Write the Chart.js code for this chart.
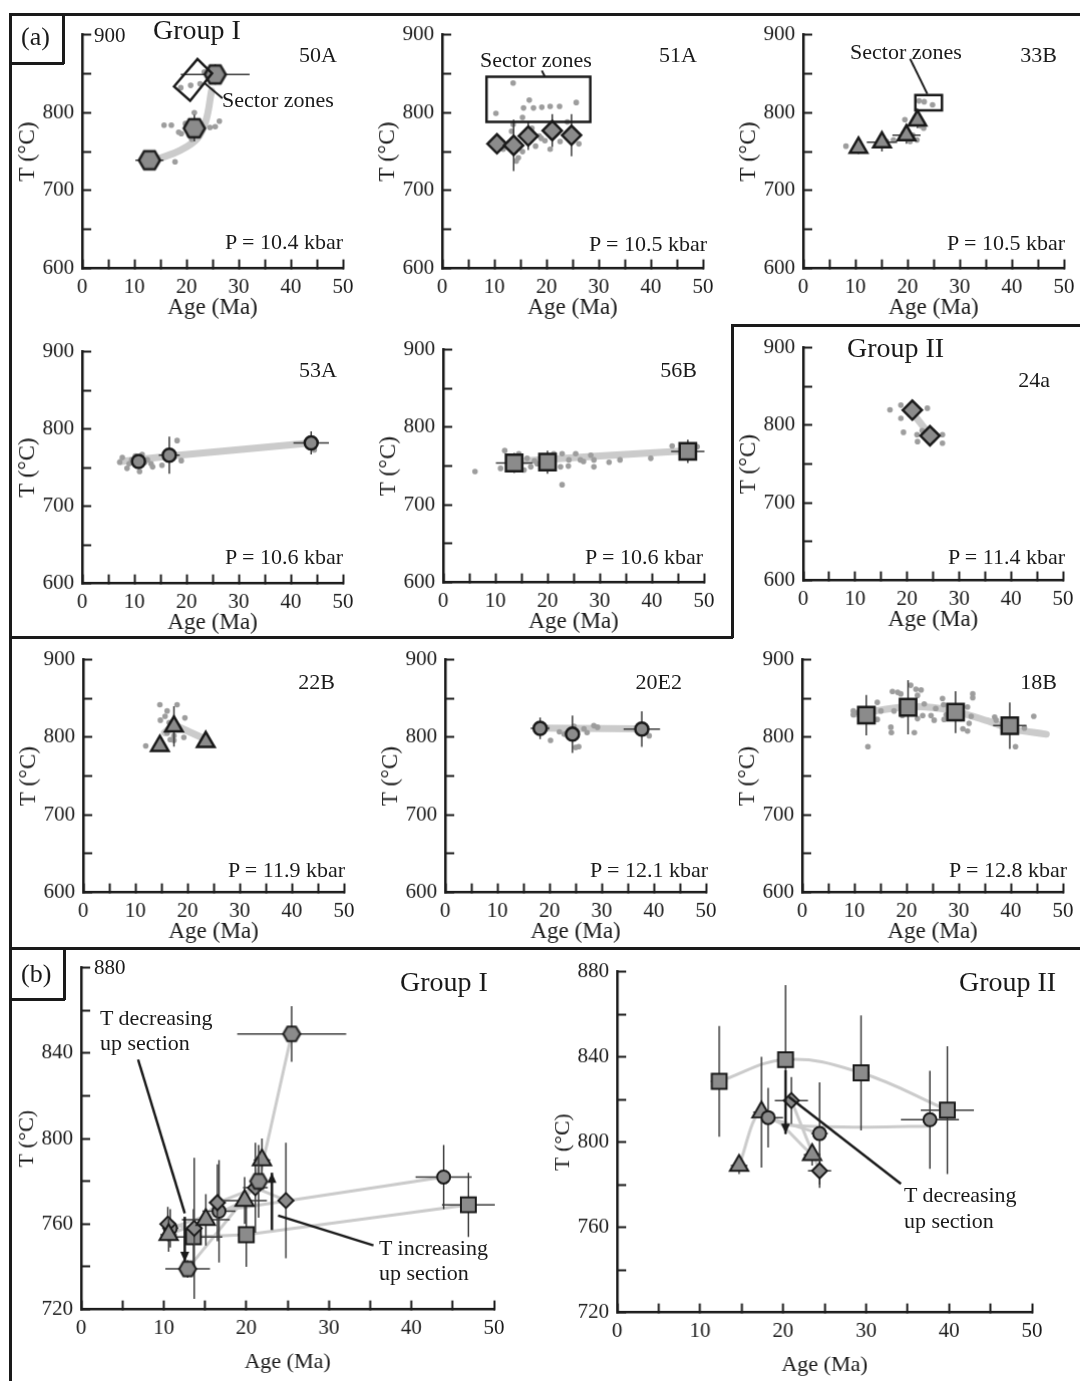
<!DOCTYPE html>
<html>
<head>
<meta charset="utf-8">
<script src="https://cdn.jsdelivr.net/npm/chart.js@4.4.1/dist/chart.umd.min.js"></script>
<style>
  body { margin: 0; background: #fff; }
  #fig { position: relative; width: 1080px; height: 1381px; overflow: hidden;
         font-family: "Liberation Serif", "Times New Roman", serif; color: #1a1a1a; }
  .ln { position: absolute; background: #1a1a1a; }
  .tx { position: absolute; white-space: nowrap; line-height: 1; }
  canvas { position: absolute; }
</style>
</head>
<body>
<div id="fig"></div>
<script>
// ---- tick labels ----
const ageLabels = [0, 10, 20, 30, 40, 50];
const tempLabelsA = [600, 700, 800, 900];
const tempLabelsB = [720, 760, 800, 840, 880];

// ---- Group I samples ----
// 50A (hexagons)
const age50A = [12.9, 21.5, 25.5];
const temp50A = [739, 780, 849];
const ageErr50A = [2.7, 1.0, 6.6];
const tempErr50A = [4, 17, 13];
const dots50A = [[18.9,832],[20.8,835],[22.6,837],[23.4,852],[24.2,853],[15.7,784],[17.1,784],[19,773],[19.8,786],[20.5,771],
                 [21,766],[21.5,800],[23,780],[24.5,781],[25.5,782],[26.3,789],[17.8,737],[22.2,770],[18.5,775]];
const trend50A = [[14.4,740],[18.9,752],[22.1,767],[23.7,789],[24.8,828]];

// 51A (diamonds)
const age51A = [10.5, 13.7, 16.5, 21.1, 24.8];
const temp51A = [760, 758, 770, 777, 771];
const ageErr51A = [0.8, 0.8, 1, 1.5, 1];
const tempErr51A = [8, 33, 18, 21, 27];
const dots51A = [[10.3,799],[13.6,838],[16.7,816],[15.6,806],[17.5,806],[19.1,807],[20.7,808],[22.5,808],[25.7,813],[15.4,794],
                 [13.6,785],[13.3,776],[14.6,742],[14.2,738],[15.4,750],[17.9,757],[19.7,764],[20.7,753],[22.6,763],[26.2,760],
                 [11.7,753],[19,767],[17.2,780],[18.6,770],[24,788]];

// 33B (triangles)
const age33B = [10.6, 15.1, 19.8, 21.9];
const temp33B = [755, 762, 771, 790];
const ageErr33B = [1, 2.9, 2.7, 1];
const tempErr33B = [8, 12, 11, 10];
const dots33B = [[8.2,757],[10.2,752],[16,763],[17.3,765],[19.5,791],[19.8,778],[20.5,763],[21.8,765],[22.5,783],[23.1,780],
                 [22.2,815],[23.2,814],[24.8,810],[19.3,774],[21,771]];

// 53A (circles)
const age53A = [10.8, 16.7, 43.9];
const temp53A = [758, 766, 782];
const ageErr53A = [1, 2, 3.4];
const tempErr53A = [9, 24, 15];
const dots53A = [[7.2,757],[7.7,763],[8.6,749],[9.5,760],[10.2,765],[11,745],[11.5,767],[12.5,760],[13.2,755],[13.5,751],
                 [15.3,753],[18.2,785],[19,759],[44.5,773],[12,757],[9,755]];
const trend53A = [[7.5,758],[17,765],[44,782]];

// 56B (squares)
const age56B = [13.6, 20, 46.9];
const temp56B = [754, 755, 769];
const ageErr56B = [3.5, 1, 3.2];
const tempErr56B = [13, 15, 15];
const dots56B = [[6.1,743],[11,747],[11.8,770],[12.6,762],[14.5,766],[15.5,745],[16.1,760],[16.8,749],[18,753],[21.2,766],
                 [22.5,749],[22.8,726],[22.8,766],[24,750],[24.1,758],[25.4,766],[26.3,758],[26.9,756],[28.3,764],[28.9,758],
                 [28.9,749],[31.8,755],[33.9,758],[39.8,760],[43.9,776],[48.7,775],[19.6,762],[17.5,757]];
const trend56B = [[14,756],[30,763],[47,770]];

// ---- Group II samples ----
// 24a (diamonds)
const age24a = [21, 24.4];
const temp24a = [819.5, 786.5];
const ageErr24a = [2, 1.4];
const tempErr24a = [11, 8];
const dots24a = [[16.7,820],[18.8,826],[18.8,809],[19.3,791],[23.9,822],[21.9,788],[22,779],[22.9,793],[26.8,788],[26.8,777],[25.5,788]];
const trend24a = [[20.8,818],[24.2,789]];

// 22B (triangles)
const age22B = [14.7, 17.4, 23.5];
const temp22B = [789, 814, 794];
const ageErr22B = [1, 1, 1];
const tempErr22B = [4, 26, 5];
const dots22B = [[12,789],[14.7,842],[16.1,834],[18,842],[19.5,825],[14.8,822],[17.4,802],[19.3,800],[16.1,805],[16.7,797],
                 [15.7,827],[17.4,796],[16.5,819]];
const trend22B = [[15.6,806],[17.4,816],[23,799]];

// 20E2 (circles)
const age20E2 = [18.2, 24.4, 37.7];
const temp20E2 = [811.5, 804, 810.5];
const ageErr20E2 = [1.8, 1, 3.5];
const tempErr20E2 = [14, 24, 23];
const dots20E2 = [[20.2,796],[21.9,807],[22.8,804],[24.7,814],[25,787],[25.6,788],[26.6,811],[27.2,806],[28.5,815],[29.2,813],
                  [39.1,802],[24.7,798],[19.5,812]];
const trend20E2 = [[18.2,812],[37.7,811]];

// 18B (squares)
const age18B = [12.3, 20.3, 29.4, 39.8];
const temp18B = [828.5, 838.7, 832.5, 815];
const ageErr18B = [1, 1, 1, 3.2];
const tempErr18B = [26, 35, 27, 30];
const dots18B = [[9.8,834],[9.8,829],[10.6,832],[12.6,788],[14.4,845],[14.4,823],[15.1,834],[17,813],[17.1,806],[17.6,834],
                 [17.3,859],[18.3,858],[18.9,856],[19.2,828],[19.2,843],[20.8,867],[21.5,806],[21.8,862],[22.1,854],[22.8,861],
                 [23.1,828],[22.1,824],[23.4,843],[24.7,828],[25.3,822],[25.6,837],[26.9,850],[27.1,842],[27.6,829],[27.2,823],
                 [28.5,837],[30.4,824],[30.8,811],[31.7,808],[32,818],[31.7,839],[32.7,856],[32.7,851],[32.4,827],[36.9,826],
                 [37.2,822],[40.9,788],[42.6,812],[44.4,827],[19.9,845]];
const trend18B = [[10,830],[15,835],[20,839.5],[25,838.5],[29,834],[35.6,821],[40,811],[46.8,804]];
const trendB2circ = [[18.2,811.5],[20.5,808],[30,807],[37.7,807.5]];

// ---- annotations (data coordinates) ----
const sector50A = [[17.6,833.5],[22.1,868.7],[24.9,850.4],[20.7,815.2]];
const sectorLeader50A = [[23.5,837.8],[26.9,818.3]];
const sector51A = [[8.5,846],[28.4,788]];
const sectorLeader51A = [[19.1,854],[19.7,846]];
const sector33B = [[21.5,822.6],[26.6,803]];
const sectorLeader33B = [[20.5,869],[23.8,824]];
const decLeaderB1 = [[6.9,837],[12.55,765]];
const decArrowB1 = [[12.55,763.4],[12.55,742.3]];
const incArrowB1 = [[23.1,757.2],[23.1,784]];
const incLeaderB1 = [[35.4,750],[23.85,764]];
const decArrowB2 = [[20.3,833.7],[20.3,803.9]];
const decLeaderB2 = [[20.7,821.2],[34.2,780.4]];

// ---- styles ----
const FONT = '"Liberation Serif", "Times New Roman", serif';
const INK = '#1a1a1a';
const FILL = '#8b8b8b';
const DOT = '#9d9d9d';
const TREND = '#cbcbcb';
const ERR = '#3a3a3a';

const fig = document.getElementById('fig');

function hexImage(r, lw) {
  const s = Math.ceil(2 * r + lw + 2);
  const c = document.createElement('canvas');
  c.width = s; c.height = s;
  const g = c.getContext('2d');
  g.beginPath();
  for (let k = 0; k < 6; k++) {
    const a = k * Math.PI / 3;
    const px = s / 2 + r * Math.cos(a), py = s / 2 + r * Math.sin(a);
    if (k) g.lineTo(px, py); else g.moveTo(px, py);
  }
  g.closePath();
  g.fillStyle = FILL; g.fill();
  g.lineWidth = lw; g.strokeStyle = INK; g.stroke();
  return c;
}

function pts(a) { return a.map(p => ({ x: p[0], y: p[1] })); }

function markers(age, temp, ageErr, tempErr, shape, r, bw) {
  return {
    data: age.map((a, i) => ({ x: a, y: temp[i] })),
    errX: ageErr, errY: tempErr,
    pointStyle: shape === 'hex' ? hexImage(r, bw) : shape,
    pointRadius: r, backgroundColor: FILL, borderColor: INK, borderWidth: bw
  };
}
function dots(a) {
  return { data: pts(a), pointRadius: 2.8, pointStyle: 'circle', backgroundColor: DOT, borderWidth: 0 };
}
function trend(a, w, tension) {
  return { data: pts(a), showLine: true, pointRadius: 0, borderColor: TREND, borderWidth: w,
           tension: tension, borderCapStyle: 'round', borderJoinStyle: 'round', fill: false };
}

// error bars drawn just under their own markers
const errorBars = {
  id: 'errorBars',
  beforeDatasetDraw(chart, args) {
    const ds = chart.data.datasets[args.index];
    if (!ds.errX && !ds.errY) return;
    const xs = chart.scales.x, ys = chart.scales.y, ctx = chart.ctx;
    ctx.save();
    ctx.strokeStyle = ERR; ctx.lineWidth = 1.5;
    ds.data.forEach((p, i) => {
      const px = xs.getPixelForValue(p.x), py = ys.getPixelForValue(p.y);
      ctx.beginPath();
      if (ds.errX && ds.errX[i]) {
        ctx.moveTo(xs.getPixelForValue(p.x - ds.errX[i]), py);
        ctx.lineTo(xs.getPixelForValue(p.x + ds.errX[i]), py);
      }
      if (ds.errY && ds.errY[i]) {
        ctx.moveTo(px, ys.getPixelForValue(p.y - ds.errY[i]));
        ctx.lineTo(px, ys.getPixelForValue(p.y + ds.errY[i]));
      }
      ctx.stroke();
    });
    ctx.restore();
  }
};

function notesPlugin(notes) {
  return {
    id: 'notes',
    afterDatasetsDraw(chart) {
      if (!notes) return;
      const xs = chart.scales.x, ys = chart.scales.y, ctx = chart.ctx;
      const P = p => [xs.getPixelForValue(p[0]), ys.getPixelForValue(p[1])];
      ctx.save();
      ctx.strokeStyle = INK; ctx.fillStyle = INK;
      notes.forEach(n => {
        ctx.lineWidth = n.w || 2;
        const q = n.pts.map(P);
        ctx.beginPath();
        if (n.kind === 'box') {
          ctx.rect(q[0][0], q[0][1], q[1][0] - q[0][0], q[1][1] - q[0][1]);
        } else {
          q.forEach((c, i) => i ? ctx.lineTo(c[0], c[1]) : ctx.moveTo(c[0], c[1]));
          if (n.kind === 'poly') ctx.closePath();
        }
        ctx.stroke();
        if (n.kind === 'arrow') {
          const [a, b] = [q[q.length - 2], q[q.length - 1]];
          const ang = Math.atan2(b[1] - a[1], b[0] - a[0]);
          const L = 10, W = 4.5;
          ctx.beginPath();
          ctx.moveTo(b[0], b[1]);
          ctx.lineTo(b[0] - L * Math.cos(ang) + W * Math.sin(ang), b[1] - L * Math.sin(ang) - W * Math.cos(ang));
          ctx.lineTo(b[0] - L * Math.cos(ang) - W * Math.sin(ang), b[1] - L * Math.sin(ang) + W * Math.cos(ang));
          ctx.closePath();
          ctx.fill();
        }
      });
      ctx.restore();
    }
  };
}

function panel(def) {
  const [x0, y0, x1, y1] = def.rect;
  const big = def.big;
  const YW = big ? 65 : 66, XH = big ? 64 : 51, PR = 24;
  const tickSize = 21, titleSize = big ? 22 : 23;
  const yMin = big ? 720 : 600, yMax = big ? 880 : 900, yStep = big ? 20 : 50;
  const yLabels = big ? tempLabelsB : tempLabelsA;
  const w = x1 - x0 + YW + PR, h = y1 - y0 + 16 + XH;
  const cv = document.createElement('canvas');
  cv.width = w; cv.height = h;
  cv.style.width = w + 'px'; cv.style.height = h + 'px';
  fig.appendChild(cv);
  const axisCommon = {
    type: 'linear',
    border: { display: true, color: INK, width: 2.5 },
    grid: { display: true, drawOnChartArea: false, drawTicks: true, tickLength: -9, tickWidth: 2, tickColor: INK },
  };
  const chart = new Chart(cv, {
    type: 'scatter',
    data: { datasets: def.datasets },
    options: {
      responsive: false, maintainAspectRatio: false, animation: false, devicePixelRatio: 1, events: [],
      layout: { padding: { top: 2, right: PR, left: 0, bottom: 0 } },
      plugins: { legend: { display: false }, tooltip: { enabled: false } },
      scales: {
        x: Object.assign({}, axisCommon, {
          min: 0, max: 50,
          afterFit: s => { s.height = XH; },
          ticks: { stepSize: 5, autoSkip: false, maxRotation: 0, padding: 15, color: INK,
                   font: { family: FONT, size: tickSize },
                   callback: v => ageLabels.includes(v) ? String(v) : '' },
          title: { display: true, text: 'Age (Ma)', color: INK, padding: 0,
                   font: { family: FONT, size: titleSize, lineHeight: 1 } }
        }),
        y: Object.assign({}, axisCommon, {
          min: yMin, max: yMax,
          afterFit: s => { s.width = YW; },
          ticks: { stepSize: yStep, autoSkip: false, padding: 17, color: INK,
                   font: { family: FONT, size: tickSize },
                   callback: v => (yLabels.includes(v) && !(def.hideTop && v === yMax)) ? String(v) : '' },
          title: { display: true, text: 'T (°C)', color: INK, padding: 0,
                   font: { family: FONT, size: titleSize, lineHeight: 1 } }
        })
      }
    },
    plugins: [errorBars, notesPlugin(def.notes)]
  });
  // size the canvas so the plot box matches the picture's axes, then place it
  let ca = chart.chartArea;
  const dw = (x1 - x0) - (ca.right - ca.left);
  const dh = (y1 - y0) - (ca.bottom - ca.top);
  if (Math.abs(dw) > 0.5 || Math.abs(dh) > 0.5) {
    chart.resize(w + dw, h + dh);
    ca = chart.chartArea;
  }
  cv.style.top = (y0 - ca.top) + 'px';
  cv.style.left = (x0 - ca.left) + 'px';
}

// marker sizes
const S = { bw: 2.5, hex: 10.5, dia: 9.5, tri: 10, circ: 6.5, sq: 11.5 };
const B = { bw: 2, hex: 8.5, dia: 7.5, tri: 10.5, circ: 6.5, sq: 10.5 };

// ---- row 1 ----
panel({ rect: [82, 35, 342, 268], hideTop: true,
  datasets: [markers(age50A, temp50A, ageErr50A, tempErr50A, 'hex', S.hex, S.bw), dots(dots50A), trend(trend50A, 7, 0.4)],
  notes: [{ kind: 'poly', pts: sector50A, w: 2.5 }, { kind: 'line', pts: sectorLeader50A, w: 2 }] });
panel({ rect: [442, 35, 702, 268],
  datasets: [markers(age51A, temp51A, ageErr51A, tempErr51A, 'rectRot', S.dia, S.bw), dots(dots51A)],
  notes: [{ kind: 'box', pts: sector51A, w: 2.5 }, { kind: 'line', pts: sectorLeader51A, w: 2 }] });
panel({ rect: [803, 35, 1063, 268],
  datasets: [markers(age33B, temp33B, ageErr33B, tempErr33B, 'triangle', S.tri, S.bw), dots(dots33B)],
  notes: [{ kind: 'box', pts: sector33B, w: 2.5 }, { kind: 'line', pts: sectorLeader33B, w: 2 }] });

// ---- row 2 ----
panel({ rect: [82, 352, 342, 583],
  datasets: [markers(age53A, temp53A, ageErr53A, tempErr53A, 'circle', S.circ, S.bw), dots(dots53A), trend(trend53A, 7, 0)] });
panel({ rect: [443, 350, 703, 582],
  datasets: [markers(age56B, temp56B, ageErr56B, tempErr56B, 'rect', S.sq, S.bw), dots(dots56B), trend(trend56B, 7, 0)] });
panel({ rect: [803, 348, 1062, 580],
  datasets: [markers(age24a, temp24a, ageErr24a, tempErr24a, 'rectRot', S.dia, S.bw), dots(dots24a), trend(trend24a, 7, 0)] });

// ---- row 3 ----
panel({ rect: [83, 660, 343, 892],
  datasets: [markers(age22B, temp22B, ageErr22B, tempErr22B, 'triangle', S.tri, S.bw), dots(dots22B), trend(trend22B, 7, 0)] });
panel({ rect: [445, 660, 705, 892],
  datasets: [markers(age20E2, temp20E2, ageErr20E2, tempErr20E2, 'circle', S.circ, S.bw), dots(dots20E2), trend(trend20E2, 7, 0)] });
panel({ rect: [802, 660, 1062, 892],
  datasets: [markers(age18B, temp18B, ageErr18B, tempErr18B, 'rect', S.sq, S.bw), dots(dots18B), trend(trend18B, 7, 0.4)] });

// ---- (b) Group I ----
const g1 = [[age50A, temp50A], [age51A, temp51A], [age33B, temp33B], [age53A, temp53A], [age56B, temp56B]];
panel({ rect: [81, 968, 493, 1309], big: true, hideTop: true,
  datasets: [
    markers(age50A, temp50A, ageErr50A, tempErr50A, 'hex', B.hex, B.bw),
    markers(age33B, temp33B, ageErr33B, tempErr33B, 'triangle', B.tri, B.bw),
    markers(age51A, temp51A, ageErr51A, tempErr51A, 'rectRot', B.dia, B.bw),
    markers(age53A, temp53A, ageErr53A, tempErr53A, 'circle', B.circ, B.bw),
    markers(age56B, temp56B, ageErr56B, tempErr56B, 'rect', B.sq, B.bw),
    ...g1.map(s => trend(s[0].map((a, i) => [a, s[1][i]]), 3, 0))
  ],
  notes: [
    { kind: 'line', pts: decLeaderB1, w: 2.5 }, { kind: 'arrow', pts: decArrowB1, w: 2.5 },
    { kind: 'arrow', pts: incArrowB1, w: 2.5 }, { kind: 'line', pts: incLeaderB1, w: 2.5 }
  ] });

// ---- (b) Group II ----
panel({ rect: [617, 972, 1031, 1312], big: true,
  datasets: [
    markers(age24a, temp24a, ageErr24a, tempErr24a, 'rectRot', B.dia, B.bw),
    markers(age20E2, temp20E2, ageErr20E2, tempErr20E2, 'circle', B.circ, B.bw),
    markers(age22B, temp22B, ageErr22B, tempErr22B, 'triangle', B.tri, B.bw),
    markers(age18B, temp18B, ageErr18B, tempErr18B, 'rect', B.sq, B.bw),
    trend(age18B.map((a, i) => [a, temp18B[i]]), 3, 0.4),
    trend(age22B.map((a, i) => [a, temp22B[i]]), 3, 0.3),
    trend(trendB2circ, 3, 0.3),
    trend([[age20E2[0], temp20E2[0]], [age20E2[1], temp20E2[1]]], 3, 0),
    trend(age24a.map((a, i) => [a, temp24a[i]]), 3, 0)
  ],
  notes: [{ kind: 'arrow', pts: decArrowB2, w: 2.5 }, { kind: 'line', pts: decLeaderB2, w: 2.5 }] });

// ---- frames ----
function line(x, y, w, h) {
  const d = document.createElement('div');
  d.className = 'ln';
  Object.assign(d.style, { left: x + 'px', top: y + 'px', width: w + 'px', height: h + 'px' });
  fig.appendChild(d);
}
line(9, 13, 1071, 3);
line(9, 13, 3, 1368);
line(62, 13, 2.5, 51); line(9, 62, 55, 2.5);
line(9, 636, 724, 2.5);
line(731, 324, 2.5, 314);
line(731, 324, 349, 2.5);
line(9, 947, 1071, 2.5);
line(63, 947, 2.5, 53); line(9, 998, 56, 2.5);

// ---- text ----
function label(text, x, cy, size, right) {
  const d = document.createElement('div');
  d.className = 'tx';
  d.textContent = text;
  d.style.fontSize = size + 'px';
  d.style.top = (cy - size * 0.52) + 'px';
  if (right) d.style.right = (1080 - x) + 'px'; else d.style.left = x + 'px';
  fig.appendChild(d);
}
label('(a)', 21, 38, 26);
label('Group I', 153, 31, 28);
label('900', 94, 36, 21);
label('50A', 337, 55, 22, true);
label('Sector zones', 222, 100, 22);
label('P = 10.4 kbar', 343, 242, 22, true);
label('51A', 697, 55, 22, true);
label('Sector zones', 480, 60, 22);
label('P = 10.5 kbar', 707, 244, 22, true);
label('33B', 1057, 55, 22, true);
label('Sector zones', 850, 52, 22);
label('P = 10.5 kbar', 1065, 243, 22, true);
label('53A', 337, 370, 22, true);
label('P = 10.6 kbar', 343, 557, 22, true);
label('56B', 697, 370, 22, true);
label('P = 10.6 kbar', 703, 557, 22, true);
label('Group II', 847, 349, 28);
label('24a', 1050, 380, 22, true);
label('P = 11.4 kbar', 1065, 557, 22, true);
label('22B', 335, 682, 22, true);
label('P = 11.9 kbar', 345, 870, 22, true);
label('20E2', 682, 682, 22, true);
label('P = 12.1 kbar', 708, 870, 22, true);
label('18B', 1057, 682, 22, true);
label('P = 12.8 kbar', 1067, 870, 22, true);
label('(b)', 21, 975, 26);
label('880', 94, 968, 21);
label('Group I', 400, 983, 28);
label('T decreasing', 100, 1018, 22);
label('up section', 100, 1043, 22);
label('T increasing', 379, 1248, 22);
label('up section', 379, 1273, 22);
label('Group II', 959, 983, 28);
label('T decreasing', 904, 1195, 22);
label('up section', 904, 1221, 22);
</script>
</body>
</html>
